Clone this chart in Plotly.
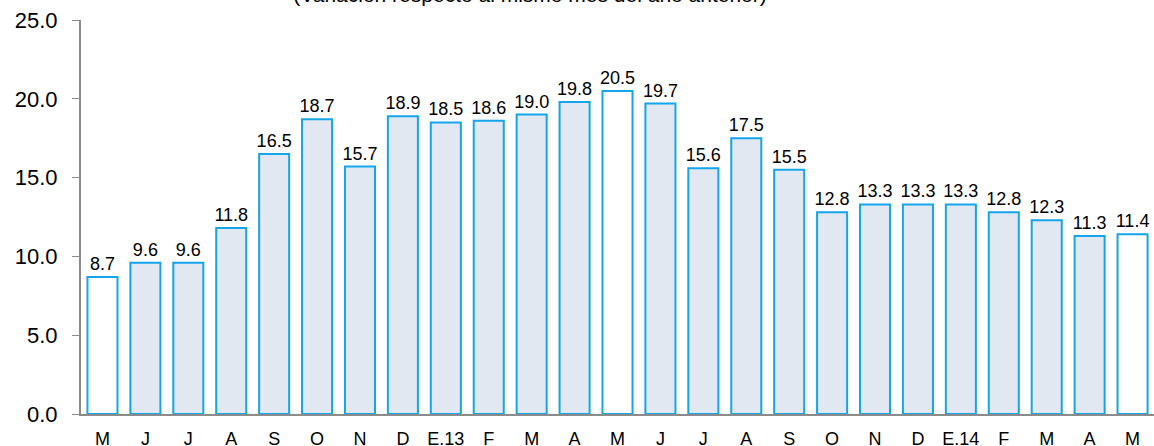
import plotly.graph_objects as go

meses = ["M", "J", "J", "A", "S", "O", "N", "D", "E.13", "F", "M", "A", "M",
         "J", "J", "A", "S", "O", "N", "D", "E.14", "F", "M", "A", "M"]
valores = [8.7, 9.6, 9.6, 11.8, 16.5, 18.7, 15.7, 18.9, 18.5, 18.6, 19.0, 19.8, 20.5,
           19.7, 15.6, 17.5, 15.5, 12.8, 13.3, 13.3, 13.3, 12.8, 12.3, 11.3, 11.4]
# los meses de mayo van sin relleno
resaltado = [True] + [False] * 11 + [True] + [False] * 11 + [True]

posiciones = list(range(len(meses)))
rellenos = ["white" if r else "#e1e8f2" for r in resaltado]

fig = go.Figure()
fig.add_trace(go.Bar(
    x=posiciones, y=valores,
    marker=dict(color=rellenos, line=dict(color="#14a5ec", width=2)),
    text=[f"{v:.1f}" for v in valores], textposition="outside",
    textfont=dict(family="Liberation Sans, Arial", size=18, color="black"),
    constraintext="none", cliponaxis=False,
))

fig.update_layout(
    width=1154, height=446,
    margin=dict(l=81, r=0, t=20, b=32),
    plot_bgcolor="white", paper_bgcolor="white",
    bargap=0.3, showlegend=False,
    font=dict(family="Liberation Sans, Arial", color="black"),
    title=dict(
        text="(Variación respecto al mismo mes del año anterior)",
        xref="paper", x=0.4185, xanchor="center",
        yref="container", y=0.996, yanchor="bottom",
        font=dict(size=21, color="black"),
    ),
)
fig.update_xaxes(
    range=[-0.5, 24.5], tickmode="array", tickvals=posiciones, ticktext=meses,
    showline=True, linecolor="#8c8c8c", linewidth=2, ticks="", showgrid=False,
    tickfont=dict(size=18), ticklabelstandoff=7, zeroline=False, automargin=False,
    ticklabeloverflow="allow",
)
fig.update_yaxes(
    range=[0, 25], dtick=5, tickformat=".1f",
    showline=True, linecolor="#8c8c8c", linewidth=2,
    ticks="outside", ticklen=7, tickcolor="#8c8c8c", tickwidth=1,
    showgrid=False, zeroline=False, tickfont=dict(size=22), ticklabelstandoff=10,
    automargin=False, ticklabeloverflow="allow",
)

# sin el margen por defecto del body la figura ocupa la ventana entera
fig.write_html("out.html", config={"displayModeBar": False},
               post_script="document.body.style.margin='0';")
